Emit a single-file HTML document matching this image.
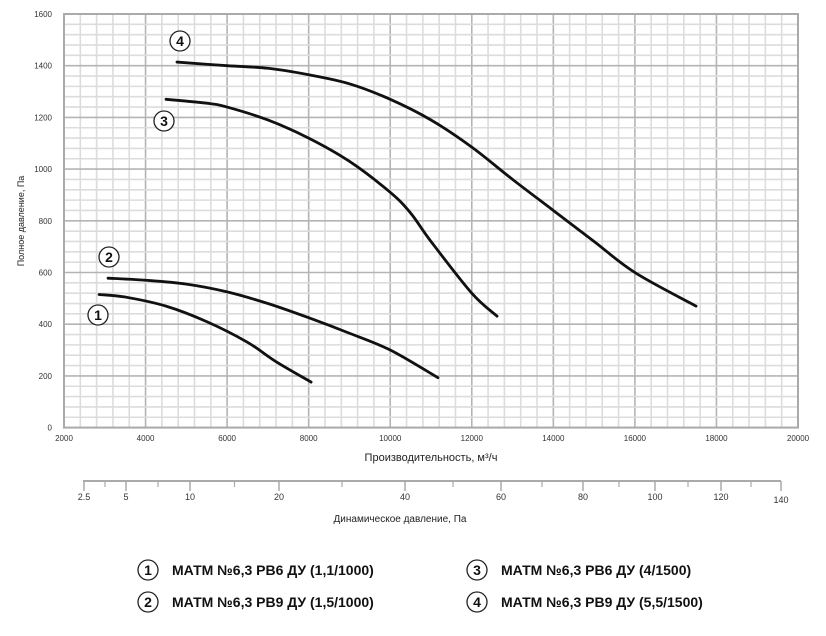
<!DOCTYPE html>
<html><head><meta charset="utf-8"><style>
body{margin:0;background:#fff;width:826px;height:631px;overflow:hidden;font-family:"Liberation Sans",sans-serif}
svg text{font-family:"Liberation Sans",sans-serif}
</style></head><body>
<svg id="c" width="826" height="631" xmlns="http://www.w3.org/2000/svg">
<g id="grid"></g>
<g id="axes"></g>
<g id="curves"></g>
<g id="legend"></g>
</svg>
<script>
const xTicks=[2000,4000,6000,8000,10000,12000,14000,16000,18000,20000];
const yTicks=[0,200,400,600,800,1000,1200,1400,1600];
const dynTickLabels=["2.5","5","10","20","40","60","80","100","120","140"];
const dynTickPos=[84,126,190,279,405,501,583,655,721,781];
const s1Flow=[2860,3500,4500,5500,6500,7200,8060];
const s1Pres=[515,505,470,410,330,255,176];
const s2Flow=[3080,4000,5000,6000,7000,8000,9000,10000,11170];
const s2Pres=[578,570,555,525,480,425,365,300,193];
const s3Flow=[4500,5500,6000,7000,8000,9000,10000,10500,11000,12000,12620];
const s3Pres=[1270,1255,1240,1190,1120,1030,910,830,720,520,431];
const s4Flow=[4770,6000,7000,8000,9000,10000,11000,12000,13000,14000,15000,16000,17500];
const s4Pres=[1414,1400,1390,1365,1330,1270,1190,1085,960,840,720,600,470];
const seriesNames=["МАТМ №6,3 РВ6 ДУ (1,1/1000)","МАТМ №6,3 РВ9 ДУ (1,5/1000)","МАТМ №6,3 РВ6 ДУ (4/1500)","МАТМ №6,3 РВ9 ДУ (5,5/1500)"];

const X0=64,X1=798,Y0=427.6,Y1=14;
const xs=v=>X0+(v-2000)/18000*(X1-X0);
const ys=v=>Y0-v/1600*(Y0-Y1);
const NS="http://www.w3.org/2000/svg";
function mk(tag,attrs,parent,text){const e=document.createElementNS(NS,tag);for(const k in attrs)e.setAttribute(k,attrs[k]);if(text!==undefined)e.textContent=text;parent.appendChild(e);return e;}
const grid=document.getElementById('grid'),axes=document.getElementById('axes'),cv=document.getElementById('curves'),lg=document.getElementById('legend');
for(let v=2000;v<=20000;v+=400){const l=mk('line',{x1:xs(v),x2:xs(v),y1:Y1,y2:Y0,stroke:v%2000===0?'#b4b4b4':'#dcdcdc','stroke-width':1.6},grid);

}
for(let v=0;v<=1600;v+=40){const l=mk('line',{x1:X0,x2:X1,y1:ys(v),y2:ys(v),stroke:v%200===0?'#b4b4b4':'#dcdcdc','stroke-width':1.6},grid);

}
mk('rect',{x:X0,y:Y1,width:X1-X0,height:Y0-Y1,fill:'none',stroke:'#aaa','stroke-width':2},axes);
xTicks.forEach(v=>{const t=mk('text',{x:xs(v),y:441,'font-size':8,'text-anchor':'middle',fill:'#333'},axes,v);

});
yTicks.forEach(v=>{const t=mk('text',{x:52,y:ys(v)+3,'font-size':8,'text-anchor':'end',fill:'#333'},axes,v);

});
let t=mk('text',{x:431,y:461,'font-size':11,'text-anchor':'middle',fill:'#222'},axes,'Производительность, м³/ч');

t=mk('text',{x:0,y:0,'font-size':9,'text-anchor':'middle',fill:'#222',transform:'translate(24,221) rotate(-90)'},axes,'Полное давление, Па');

mk('line',{x1:83,x2:781,y1:481,y2:481,stroke:'#aaa','stroke-width':2},axes);
for(let i=0;i<dynTickPos.length;i++){mk('line',{x1:dynTickPos[i],x2:dynTickPos[i],y1:481,y2:491,stroke:'#aaa','stroke-width':1.5},axes);
const l=mk('text',{x:dynTickPos[i],y:i===9?503:500,'font-size':9,'text-anchor':'middle',fill:'#333'},axes,dynTickLabels[i]);


if(i<9){const m=(dynTickPos[i]+dynTickPos[i+1])/2;mk('line',{x1:m,x2:m,y1:481,y2:487,stroke:'#aaa','stroke-width':1.2},axes);}}
t=mk('text',{x:400,y:522,'font-size':10,'text-anchor':'middle',fill:'#222'},axes,'Динамическое давление, Па');


const series=[[s1Flow,s1Pres],[s2Flow,s2Pres],[s3Flow,s3Pres],[s4Flow,s4Pres]];
function smooth(pts){let d='M'+pts[0][0]+','+pts[0][1];for(let i=0;i<pts.length-1;i++){const p0=pts[i-1]||pts[i],p1=pts[i],p2=pts[i+1],p3=pts[i+2]||p2;
d+=' C'+(p1[0]+(p2[0]-p0[0])/6)+','+(p1[1]+(p2[1]-p0[1])/6)+' '+(p2[0]-(p3[0]-p1[0])/6)+','+(p2[1]-(p3[1]-p1[1])/6)+' '+p2[0]+','+p2[1];}return d;}
series.forEach((s,i)=>{const pts=s[0].map((f,j)=>[xs(f),ys(s[1][j])]);
const p=mk('path',{d:smooth(pts),fill:'none',stroke:'#111','stroke-width':2.8,'stroke-linecap':'round'},cv);

});
function badge(cx,cy,label,r,fs,parent,name){const g=mk('g',{},parent);


mk('circle',{cx:cx,cy:cy,r:r,fill:'#fff',stroke:'#222','stroke-width':1.3},g);
mk('text',{x:cx,y:cy+fs*0.36,'font-size':fs,'font-weight':'bold','text-anchor':'middle',fill:'#111'},g,label);}
badge(98,315,'1',10,14,cv,'curve-1-marker');
badge(109,257,'2',10,14,cv,'curve-2-marker');
badge(164,121,'3',10,14,cv,'curve-3-marker');
badge(180,41,'4',10,14,cv,'curve-4-marker');
const lp=[[148,570],[148,602],[477,570],[477,602]];
lp.forEach((p,i)=>{badge(p[0],p[1],String(i+1),10,14,lg,'legend-marker-'+(i+1));
const tx=mk('text',{x:p[0]+24,y:p[1]+5,'font-size':14,'font-weight':'bold',fill:'#111'},lg,seriesNames[i]);

});
</script>
</body></html>
